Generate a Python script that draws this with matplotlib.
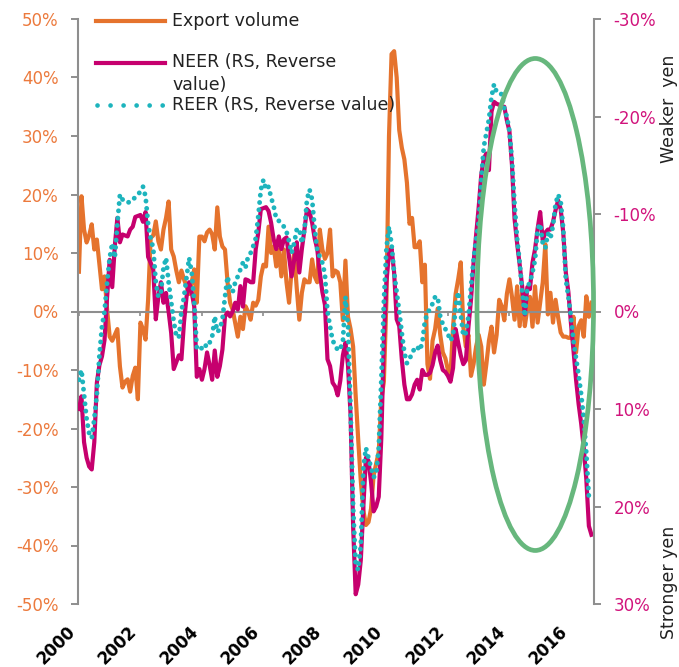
import numpy as np
import matplotlib
matplotlib.use("Agg")
import matplotlib.pyplot as plt
from matplotlib.patches import Ellipse
from matplotlib.lines import Line2D

plt.rcParams['font.family'] = ['DejaVu Sans']

# ---------------- data (monthly, from Jan 2000) ----------------
start_year = 2000

export_volume = [
    6.8, 19.7, 14, 11.8, 13, 14.9, 10.6, 12.3, 8, 3.8, 6, 0.3,
    -4.3, -5, -4, -3, -9.4, -13, -12, -11.6, -13.7, -11, -9.6, -15,
    -1.9, -3, -4.8, 2, 12.6, 13, 15.4, 12, 10.6, 14, 16, 18.8,
    10.6, 9.4, 7, 5, 7, 5.5, 4.3, 3, 5, 7.2, 1.5, 12.8,
    12.8, 12, 13.5, 14, 13.2, 10.6, 17.8, 12.8, 11.1, 10.6, 5, 1.5,
    0.3, -2, -4.3, -0.9, -3, 0.9, 0, -1.4, 1.5, 1, 2, 6,
    8, 7.7, 14.5, 10, 11.1, 7.7, 10.6, 6, 10.6, 5, 1.5, 7.2,
    10, 4, -1.4, 3.2, 5.5, 5, 5, 8.9, 6, 5, 14, 10.6,
    9, 10, 14, 6, 7, 6.7, 5, -1.5, 8.7, -0.9, -3, -6,
    -14.4, -22, -29, -34, -36.5, -36, -33.7, -28, -26, -24, -15, -12,
    2, 30, 44, 44.5, 40, 31, 28, 26, 22, 15, 16, 11,
    11, 12, 5, 8, -9, -11.5, -5, -3, 0.5, -4, -7, -8,
    -10, -11, -2.6, 3, 5.5, 8.4, -2.6, -6, -4, -11, -9, -6,
    -4, -6, -12.5, -9, -5, -2.6, -7, -4, 2, 0.9, -1.5, 3,
    5.5, 2.5, -1.4, 4.3, -2.5, 3.5, -2.5, 0.5, 2.5, -2.6, 4.3, -1.9,
    1.5, 5, 11.5, -0.5, 3.2, -1.9, 2, -1, -3.6, -4.3, -4.3, -4.5,
    -4.5, -0.9, -7, -2.5, -1.5, -4.3, 2.6, -0.9, 1.5,
]

neer = [
    10, 8.7, 13.4, 15, 15.9, 16.2, 13.4, 7.3, 5.5, 4.6, 2.9, -1.5,
    -5.3, -2.5, -6.7, -9.6, -7.1, -7.9, -7.8, -7.7, -8.4, -8.7, -9.7, -9.8,
    -9.9, -9.2, -10.2, -5.6, -5, -4.3, 0.8, -1.5, -3, -0.9, -1.9, 0,
    2.2, 5.9, 5.2, 4.5, 4.9, 1.1, -1.5, -3, -2, -0.5, 6.7, 5.9,
    7, 5.9, 4.2, 5.5, 7, 4, 6.7, 5.6, 3.9, 0.5, 0.1, 0.5,
    0, -0.9, -0.2, -2.6, -0.5, -3.3, -3.2, -3, -3, -6.4, -8.1, -10.5,
    -10.6, -10.7, -10.3, -9.1, -7.4, -6.4, -7.7, -6.4, -7.4, -7.6, -5.6, -3.6,
    -5.3, -7.1, -4, -6.4, -8.4, -10.5, -10.2, -9.1, -7.5, -6.4, -4, -2,
    -0.7, 4.9, 5.6, 7.3, 7.7, 8.6, 7.1, 4.5, 3.2, 5.5, 10.6, 22,
    29, 28, 25.5, 20, 15, 15.3, 17.5, 20.5, 20, 19, 13, 3,
    -3, -6, -6.5, -4, 0.8, 1.5, 4.9, 7.5, 9, 9, 8.5, 7.5,
    7, 8, 6, 6.5, 6.5, 6.3, 5.5, 4.2, 3.5, 5, 6, 6.2,
    6.6, 7.2, 5.8, 1.8, 3.2, 4.5, 5.4, 5, 1.6, -1.2, -5, -7.8,
    -10.7, -14, -15.7, -16.2, -14.5, -20.5, -21.5, -21.3, -21.2, -21, -21, -19.6,
    -18.5, -15, -9.5, -7, -4.8, -2.5, 0.3, -2.5, -2.3, -5, -6.4, -8.5,
    -10.2, -7.3, -8.1, -8.4, -8.4, -9.2, -10.4, -11.4, -10.5, -8.1, -4, -2,
    1.2, 4, 7, 9.5, 11.5, 14, 17.2, 22, 22.9,
]

reer = [
    7, 6, 8.5, 11, 12.5, 13, 11, 8.5, 4.5, 1.5, 0, -3,
    -5.5, -7, -5.5, -9, -12, -11.5, -11.2, -11.2, -11.2, -11.5, -11.7, -12,
    -12.3, -12.8, -11.8, -9, -7.5, -6.5, -3, -1.5, -2, -4.5, -5.5, -3,
    -1, 1, 2.5, 2.7, 0, -1.5, -3.5, -5.5, -4, -1, 3.8, 3.6,
    3.8, 3.9, 3.1, 3.2, 2.6, 0.5, 2.1, 1.8, 0.8, -1.5, -3.6, -2.3,
    -2, -3, -3.6, -4.3, -5, -4.5, -5.6, -6, -6.7, -7.5, -9.8, -12.5,
    -13.5, -12.5, -12.8, -11.7, -10.8, -9.5, -9.3, -9, -8.7, -8.2, -7.2, -6,
    -7, -8.4, -8.5, -7, -8.3, -11.5, -12.5, -11.5, -8.5, -6.3, -5.6, -5,
    -3.8, 0, 1.5, 3, 3.4, 4, 3.8, 3.1, -1.5, 1.5, 10, 20,
    26, 26.5, 24, 16, 14, 15, 16, 17, 16.7, 14, 7, -1,
    -6.5, -8.7, -6.9, -4, -2, 0, 2.2, 4.2, 5.3, 4.8, 4.4, 3.7,
    3.6, 4, 3.2, 1, 0.2, -0.3, -0.8, -1.5, -1.5, 0.5, 1.3, 1.8,
    2.3, 3, 2.5, -0.5, -2, 0.3, 2.5, 2.2, 0.5, -2.5, -5.3, -7.4,
    -9.2, -13.5, -16.9, -18.3, -19.7, -22, -23.3, -22.5, -22.3, -22.3, -20.8, -20,
    -18.5, -15.5, -11, -7.5, -5, -2, 0.5, -2.5, -3, -4, -5.3, -8.5,
    -9, -7, -6.5, -8, -7.5, -8.8, -11, -12, -11.3, -8.5, -3.3, -1.5,
    0.5, 3, 4.8, 6.5, 8.5, 11, 14.5, 19,
]

year_ticks = [2000, 2002, 2004, 2006, 2008, 2010, 2012, 2014, 2016]
left_ticks = [50, 40, 30, 20, 10, 0, -10, -20, -30, -40, -50]
right_ticks = [-30, -20, -10, 0, 10, 20, 30]

legend_labels = ["Export volume", "NEER (RS, Reverse\nvalue)", "REER (RS, Reverse value)"]

# highlight ellipse (centre year, centre %, width in years, height in %)
ellipse_params = (2014.84, 1.2, 3.79, 84.1)

# ---------------- styles ----------------
ORANGE = '#E5732D'
MAGENTA = '#C6006E'
TEAL = '#1DB4BD'
GREEN = '#67B77D'
GREY = '#8E8E8E'
LBL_ORANGE = '#EC7A3D'
LBL_MAGENTA = '#D1137C'
TXT = '#222222'

W, H = 679, 667
fig = plt.figure(figsize=(W / 100, H / 100), dpi=100)
fx = lambda x: x / W
fy = lambda y: 1 - y / H

ax = fig.add_axes([fx(78), fy(604), (594 - 78) / W, (604 - 19) / H])
ax2 = ax.twinx()

t_exp = start_year + np.arange(len(export_volume)) / 12
t_neer = start_year + np.arange(len(neer)) / 12
t_reer = start_year + np.arange(len(reer)) / 12

ax.plot(t_exp, export_volume, color=ORANGE, lw=3.0, solid_joinstyle='round', zorder=2)
ax2.plot(t_neer, neer, color=MAGENTA, lw=3.0, solid_joinstyle='round', zorder=2)
ax2.plot(t_reer, reer, color=TEAL, lw=3.5, linestyle=(0, (0.01, 1.5)),
         dash_capstyle='round', zorder=3)

ax.set_xlim(1999.97, 2016.75)
ax.set_ylim(-50, 50)
ax2.set_ylim(30, -30)

# left axis
ax.set_yticks(left_ticks)
ax.set_yticklabels([f"{v}%" for v in left_ticks])
ax.tick_params(axis='y', direction='out', length=5, width=1.4, color=GREY,
               labelcolor=LBL_ORANGE, labelsize=12, pad=9)
# right axis
ax2.set_yticks(right_ticks)
ax2.set_yticklabels([f"{v}%" for v in right_ticks])
ax2.tick_params(axis='y', direction='out', length=5, width=1.4, color=GREY,
                labelcolor=LBL_MAGENTA, labelsize=12, pad=9)

for s in ['top', 'right']:
    ax.spines[s].set_visible(False)
for s in ['top', 'left', 'bottom']:
    ax2.spines[s].set_visible(False)
ax.spines['left'].set_color(GREY)
ax.spines['left'].set_linewidth(1.5)
ax2.spines['right'].set_color(GREY)
ax2.spines['right'].set_linewidth(1.5)
ax.spines['bottom'].set_position(('data', 0))
ax.spines['bottom'].set_color(GREY)
ax.spines['bottom'].set_linewidth(1.5)

ax.set_xticks(year_ticks)
ax.tick_params(axis='x', direction='out', length=3, width=1.2, color=GREY, labelbottom=False)

secax = ax.secondary_xaxis('bottom')
secax.set_xticks(year_ticks)
secax.set_xticklabels([str(y) for y in year_ticks])
secax.spines['bottom'].set_visible(False)
secax.tick_params(axis='x', length=0, pad=13, labelsize=12)
for lab in secax.get_xticklabels():
    lab.set_rotation(45)
    lab.set_ha('right')
    lab.set_va('top')
    lab.set_fontweight('bold')
    lab.set_color('black')

# highlight ellipse
ex, ey, ew, eh = ellipse_params
ell = Ellipse((ex, ey), ew, eh, transform=ax.transData, fill=False,
              edgecolor=GREEN, lw=3.4, zorder=10, clip_on=False)
ax2.add_patch(ell)

# legend (drawn manually to match the original layout)
fig.add_artist(Line2D([fx(96), fx(165)], [fy(21), fy(21)], transform=fig.transFigure,
                      color=ORANGE, lw=3.0))
fig.add_artist(Line2D([fx(96), fx(165)], [fy(63), fy(63)], transform=fig.transFigure,
                      color=MAGENTA, lw=3.0))
fig.add_artist(Line2D([fx(97), fx(165)], [fy(105), fy(105)], transform=fig.transFigure,
                      color=TEAL, lw=3.4, linestyle=(0, (0.01, 2.75)), dash_capstyle='round'))
fig.text(fx(172), fy(21), legend_labels[0], ha='left', va='center', fontsize=12.5, color=TXT)
fig.text(fx(172), fy(53), legend_labels[1], ha='left', va='top', fontsize=12.5, color=TXT,
         linespacing=1.35)
fig.text(fx(172), fy(105), legend_labels[2], ha='left', va='center', fontsize=12.5, color=TXT)

# right side annotations
fig.text(fx(669), fy(109), "Weaker  yen", rotation=90, ha='center', va='center',
         fontsize=12.5, color=TXT)
fig.text(fx(669), fy(582), "Stronger yen", rotation=90, ha='center', va='center',
         fontsize=12.5, color=TXT)

fig.savefig("out.png", dpi=100)
